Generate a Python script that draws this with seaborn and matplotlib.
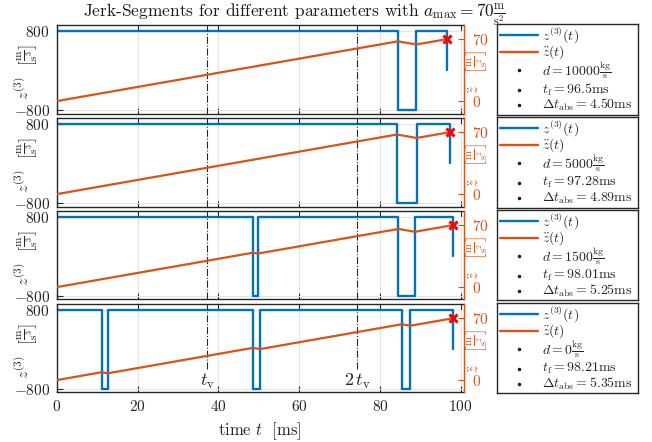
import matplotlib
matplotlib.use("Agg")
import matplotlib.pyplot as plt
import seaborn as sns

# ---------------- data ----------------
t_v = 37.2
d_values = [10000, 5000, 1500, 0]
t_f = [96.5, 97.28, 98.01, 98.21]
dt_abs = ["4.50", "4.89", "5.25", "5.35"]

# switching instants of the jerk profile [ms] (last entry = t_f)
switch_t1 = [0, 84.5, 89.0, 96.5]
switch_t2 = [0, 84.2, 89.09, 97.28]
switch_t3 = [0, 48.6, 49.8, 84.6, 88.65, 98.01]
switch_t4 = [0, 11.1, 12.6, 48.6, 50.35, 85.4, 87.5, 98.21]

# jerk value from each switching instant on [m/s^3]
jerk_1 = [800, -800, 800, 0]
jerk_2 = [800, -800, 800, 0]
jerk_3 = [800, -800, 800, -800, 800, 0]
jerk_4 = [800, -800, 800, -800, 800, -800, 800, 0]

# acceleration at each switching instant [m/s^2]
acc_1 = [0, 67.6, 64.0, 70.0]
acc_2 = [0, 67.36, 63.45, 70.0]
acc_3 = [0, 38.88, 37.92, 65.76, 62.52, 70.0]
acc_4 = [0, 8.88, 7.68, 36.48, 35.08, 63.12, 61.44, 70.0]

a_max = 70

switch_times = [switch_t1, switch_t2, switch_t3, switch_t4]
jerks = [jerk_1, jerk_2, jerk_3, jerk_4]
accs = [acc_1, acc_2, acc_3, acc_4]

# ---------------- style ----------------
sns.set_theme(style="white")
plt.rcParams.update({
    "font.family": "serif",
    "font.serif": ["cmr10", "DejaVu Serif"],
    "mathtext.fontset": "cm",
    "axes.formatter.use_mathtext": True,
    "axes.unicode_minus": True,
})

BLUE = "#0072BD"
ORANGE = "#D95319"
DARK = "#262626"
W, H = 652, 442

fig, axes = plt.subplots(4, 1, figsize=(6.52, 4.42), dpi=100, sharex=True)
fig.subplots_adjust(left=0.087, right=0.7109, bottom=0.112, top=0.9434, hspace=0.051)

for i, ax in enumerate(axes):
    ax2 = ax.twinx()
    ax.grid(True, axis="both", color="#e3e3e3", lw=0.8)
    ax.set_axisbelow(True)

    sns.lineplot(x=switch_times[i], y=jerks[i], ax=ax, color=BLUE, lw=1.7,
                 drawstyle="steps-post", estimator=None, sort=False)
    sns.lineplot(x=switch_times[i], y=accs[i], ax=ax2, color=ORANGE, lw=1.6,
                 estimator=None, sort=False)
    ax2.plot([t_f[i]], [a_max], marker="x", color="red", ms=5.5, mew=2.2, ls="none")

    if i == 3:
        ax.axvline(t_v, ymin=0.27, ymax=1, color=DARK, ls="-.", lw=0.8)
        ax.axvline(2 * t_v, ymin=0.27, ymax=1, color=DARK, ls="-.", lw=0.8)
        ax.text(t_v, 0.12, r"$t_\mathrm{v}$", transform=ax.get_xaxis_transform(),
                ha="center", va="center", fontsize=13, color=DARK)
        ax.text(2 * t_v, 0.12, r"$2\,t_\mathrm{v}$", transform=ax.get_xaxis_transform(),
                ha="center", va="center", fontsize=13, color=DARK)
    else:
        ax.axvline(t_v, color=DARK, ls="-.", lw=0.8)
        ax.axvline(2 * t_v, color=DARK, ls="-.", lw=0.8)

    ax.set_xlim(0, 100.7)
    ax.set_ylim(-870, 915)
    ax.set_yticks([-800, 800])
    ax.set_xticks([0, 20, 40, 60, 80, 100])
    ax2.set_ylim(-14, 86)
    ax2.set_yticks([0, 70])

    ax.tick_params(axis="both", direction="in", length=4, width=0.8, colors=DARK,
                   labelsize=11, top=True, bottom=True, left=True, right=False, pad=5)
    ax2.tick_params(axis="y", direction="in", length=4, width=0.8, colors=ORANGE,
                    labelsize=11, pad=6)

    for s in ["left", "top", "bottom"]:
        ax.spines[s].set_color(DARK)
        ax.spines[s].set_linewidth(1.0)
        ax2.spines[s].set_visible(False)
    ax.spines["right"].set_visible(False)
    ax2.spines["right"].set_color(ORANGE)
    ax2.spines["right"].set_linewidth(1.0)

    ax.set_ylabel(r"$z^{(3)}\ \ \left[\frac{\mathrm{m}}{\mathrm{s}^3}\right]$", fontsize=11.5, color=DARK)
    ax.yaxis.set_label_coords(-0.074, 0.47)
    ax.yaxis.label.set_va("center")
    ax2.set_ylabel(r"$\ddot{z}\ \ \ \left[\frac{\mathrm{m}}{\mathrm{s}^2}\right]$", fontsize=11,
                   color=ORANGE, rotation=90)
    ax2.yaxis.set_label_coords(1.031, 0.47)
    ax2.yaxis.label.set_va("center")
    ax.set_xlabel("")

    # ---- legend box to the right of each panel ----
    pos = ax.get_position()
    lx0, lx1 = 497 / W, 638 / W
    lax = fig.add_axes([lx0, pos.y0 - 1.0 / H, lx1 - lx0, pos.height + 2.0 / H])
    hh = pos.height * H + 2
    lax.set_xlim(0, 141)
    lax.set_ylim(hh, 0)
    lax.set_xticks([])
    lax.set_yticks([])
    for s in lax.spines.values():
        s.set_color(DARK)
        s.set_linewidth(1.0)
    rows = [0.125 * hh, 0.307 * hh, 0.511 * hh, 0.727 * hh, 0.898 * hh]
    lax.plot([3, 41], [rows[0], rows[0]], color=BLUE, lw=1.7)
    lax.plot([3, 41], [rows[1], rows[1]], color=ORANGE, lw=1.7)
    for r in rows[2:]:
        lax.plot([22], [r], marker=".", color="k", ms=3)
    labels = [
        r"$z^{(3)}(t)$",
        r"$\ddot{z}(t)$",
        r"$d = %d\frac{\mathrm{kg}}{\mathrm{s}}$" % d_values[i],
        r"$t_\mathrm{f} = %s\mathrm{ms}$" % str(t_f[i]),
        r"$\Delta t_\mathrm{abs} = %s\mathrm{ms}$" % dt_abs[i],
    ]
    for r, lab in zip(rows, labels):
        lax.text(45, r, lab, ha="left", va="center", fontsize=10, color=DARK)

axes[-1].set_xlabel(r"time $t\ \ $[ms]", fontsize=12, color=DARK, labelpad=4)

fig.text(0.451, 0.966,
         r"Jerk-Segments for different parameters with $a_\mathrm{max} = 70\frac{\mathrm{m}}{\mathrm{s}^2}$",
         ha="center", va="center", fontsize=12.5, color="k")

fig.savefig("out.png", dpi=100)
